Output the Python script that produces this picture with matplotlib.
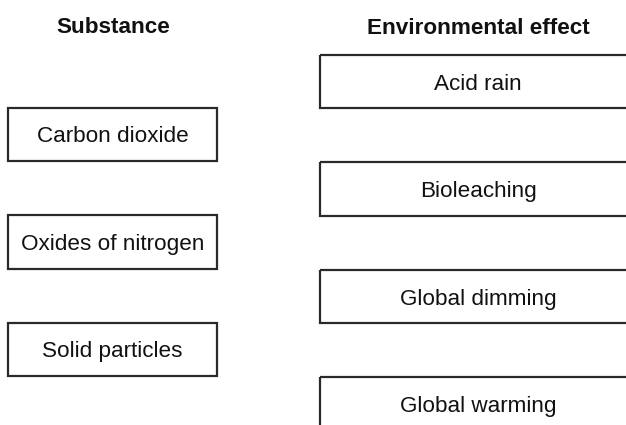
import matplotlib.pyplot as plt
from matplotlib.patches import Rectangle

plt.rcParams['font.family'] = ['Liberation Sans', 'DejaVu Sans']

substances = ["Carbon dioxide", "Oxides of nitrogen", "Solid particles"]
effects = ["Acid rain", "Bioleaching", "Global dimming", "Global warming"]
headers = ["Substance", "Environmental effect"]

W, H = 626, 425
fig = plt.figure(figsize=(W / 100, H / 100), dpi=100)
ax = fig.add_axes([0, 0, 1, 1])
ax.set_xlim(0, W)
ax.set_ylim(H, 0)
ax.axis('off')

step = 107.5
box_h = 53.5
edge = '#2a2a2a'
fs = 16.2

# left column
for i, name in enumerate(substances):
    top = 107.5 + i * step
    ax.add_patch(Rectangle((8, top), 209, box_h, fill=False, ec=edge, lw=1.6))
    ax.text(112.5, top + 35, name, ha='center', va='baseline', fontsize=fs, color='#111')

# right column (boxes run off the right edge)
for i, name in enumerate(effects):
    top = 54.5 + i * step
    ax.add_patch(Rectangle((320, top), 340, box_h, fill=False, ec=edge, lw=1.6))
    ax.text(478, top + 35, name, ha='center', va='baseline', fontsize=fs, color='#111')

ax.text(113, 33.3, headers[0], ha='center', va='baseline', fontsize=fs, fontweight='bold', color='#111')
ax.text(478, 33.5, headers[1], ha='center', va='baseline', fontsize=fs, fontweight='bold', color='#111')

fig.savefig('out.png', dpi=100)
